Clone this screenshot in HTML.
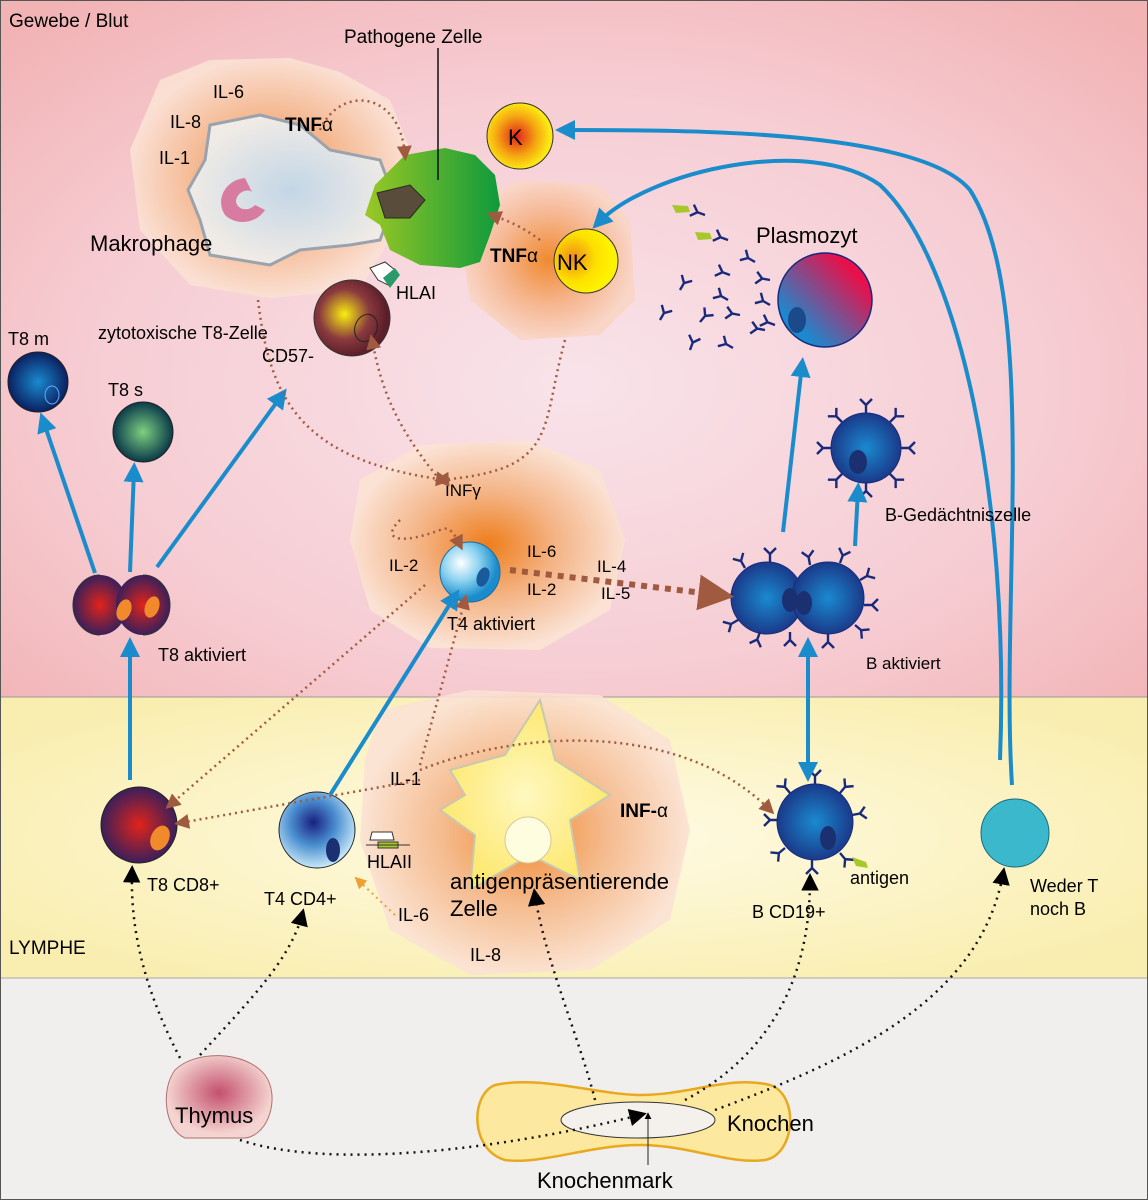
<!DOCTYPE html>
<html><head><meta charset="utf-8"><style>
html,body{margin:0;padding:0;background:#fff}
svg{display:block;font-family:"Liberation Sans",sans-serif}
</style></head><body>
<svg width="1148" height="1200" viewBox="0 0 1148 1200" xmlns="http://www.w3.org/2000/svg">
<defs>
<radialGradient id="bgTop" cx="0.5" cy="0.55" r="0.7"><stop offset="0" stop-color="#f9e3ea"/><stop offset="0.6" stop-color="#f6cdd3"/><stop offset="1" stop-color="#f2b3b5"/></radialGradient>
<radialGradient id="bgLy" cx="0.5" cy="0.5" r="0.6"><stop offset="0" stop-color="#fffbe6"/><stop offset="1" stop-color="#f9eeb0"/></radialGradient>
<radialGradient id="glow" cx="0.5" cy="0.5" r="0.5"><stop offset="0" stop-color="#ef7d1a"/><stop offset="0.5" stop-color="#f4b486"/><stop offset="1" stop-color="#fbe2d4"/></radialGradient>
<radialGradient id="glow2" cx="0.5" cy="0.5" r="0.5"><stop offset="0" stop-color="#f08a30"/><stop offset="0.6" stop-color="#f6b996"/><stop offset="1" stop-color="#f9d6c8"/></radialGradient>
<radialGradient id="macIn" cx="0.5" cy="0.5" r="0.5"><stop offset="0" stop-color="#c3d6e6"/><stop offset="1" stop-color="#f0ebe6"/></radialGradient>
<linearGradient id="green" x1="0" x2="1"><stop offset="0" stop-color="#9bc824"/><stop offset="1" stop-color="#0e9a3c"/></linearGradient>
<radialGradient id="kG" cx="0.45" cy="0.5" r="0.5"><stop offset="0" stop-color="#e2231a"/><stop offset="0.6" stop-color="#f5a512"/><stop offset="1" stop-color="#fde812"/></radialGradient>
<radialGradient id="nkG" cx="0.3" cy="0.45" r="0.6"><stop offset="0" stop-color="#f08a1a"/><stop offset="0.6" stop-color="#fde000"/><stop offset="1" stop-color="#fff200"/></radialGradient>
<radialGradient id="ctG" cx="0.4" cy="0.45" r="0.55"><stop offset="0" stop-color="#f9ee10"/><stop offset="0.6" stop-color="#8a3a3e"/><stop offset="1" stop-color="#5c1f2a"/></radialGradient>
<radialGradient id="t8m" cx="0.5" cy="0.5" r="0.5"><stop offset="0" stop-color="#1a8ad0"/><stop offset="1" stop-color="#0a2060"/></radialGradient>
<radialGradient id="t8s" cx="0.5" cy="0.5" r="0.5"><stop offset="0" stop-color="#7ed080"/><stop offset="1" stop-color="#0a3a4a"/></radialGradient>
<radialGradient id="t8a" cx="0.5" cy="0.5" r="0.55"><stop offset="0" stop-color="#e2231a"/><stop offset="1" stop-color="#2a1f60"/></radialGradient>
<radialGradient id="t4a" cx="0.35" cy="0.35" r="0.6"><stop offset="0" stop-color="#ffffff"/><stop offset="0.5" stop-color="#8dd3f0"/><stop offset="1" stop-color="#1a8ccc"/></radialGradient>
<radialGradient id="t4" cx="0.45" cy="0.4" r="0.6"><stop offset="0" stop-color="#1a2080"/><stop offset="0.5" stop-color="#4a8ed0"/><stop offset="1" stop-color="#c8e8f8"/></radialGradient>
<radialGradient id="bC" cx="0.5" cy="0.5" r="0.5"><stop offset="0" stop-color="#1a8ad0"/><stop offset="1" stop-color="#1a3a8a"/></radialGradient>
<linearGradient id="plas" x1="0" y1="1" x2="1" y2="0"><stop offset="0.2" stop-color="#1a8ad0"/><stop offset="0.8" stop-color="#e8104a"/></linearGradient>
<radialGradient id="thy" cx="0.5" cy="0.45" r="0.5"><stop offset="0" stop-color="#c4506e"/><stop offset="1" stop-color="#f4d4d0"/></radialGradient>
<radialGradient id="apc" cx="0.5" cy="0.5" r="0.5"><stop offset="0" stop-color="#fff8c0"/><stop offset="1" stop-color="#fde870"/></radialGradient>
<marker id="ab" viewBox="0 0 10 10" refX="6" refY="5" markerWidth="5" markerHeight="5" orient="auto-start-reverse"><path d="M0,0 L10,5 L0,10z" fill="#1a8ccc"/></marker>
<marker id="ad" viewBox="0 0 10 10" refX="6" refY="5" markerWidth="6" markerHeight="6" orient="auto"><path d="M0,0 L10,5 L0,10z" fill="#a05a40"/></marker>
<marker id="ak" viewBox="0 0 10 10" refX="6" refY="5" markerWidth="7" markerHeight="7" orient="auto"><path d="M0,0 L10,5 L0,10z" fill="#000"/></marker>
<marker id="ao" viewBox="0 0 10 10" refX="6" refY="5" markerWidth="6" markerHeight="6" orient="auto"><path d="M0,0 L10,5 L0,10z" fill="#f0a030"/></marker>
<g id="Y"><path d="M0,0 L0,-8 M0,-8 L-6,-14 M0,-8 L6,-14" stroke="#1a2a7a" stroke-width="2.4" fill="none"/></g>
</defs>

<rect x="0" y="0" width="1148" height="697" fill="url(#bgTop)"/>
<rect x="0" y="697" width="1148" height="281" fill="url(#bgLy)"/>
<rect x="0" y="978" width="1148" height="222" fill="#f0efed"/>
<line x1="0" y1="697" x2="1148" y2="697" stroke="#999" stroke-width="1"/>
<line x1="0" y1="978" x2="1148" y2="978" stroke="#aaa" stroke-width="1"/>
<rect x="0.5" y="0.5" width="1147" height="1199" fill="none" stroke="#555"/>

<text x="9" y="27" font-size="19">Gewebe / Blut</text>
<text x="9" y="954" font-size="19">LYMPHE</text>

<!-- glows -->
<path d="M160,80 L210,60 L290,58 L340,72 L390,100 L410,150 L395,230 L360,290 L270,298 L190,285 L140,230 L130,150 Z" fill="url(#glow)" opacity="0.9"/>
<path d="M470,205 L520,180 L600,185 L630,220 L635,300 L600,335 L520,340 L470,300 L462,250 Z" fill="url(#glow2)"/>
<path d="M360,480 L420,445 L530,440 L600,470 L625,540 L610,610 L540,650 L430,648 L370,610 L350,540 Z" fill="url(#glow)"/>
<path d="M380,710 L470,690 L600,695 L670,740 L690,830 L670,920 L590,970 L470,975 L390,930 L360,840 L365,760 Z" fill="url(#glow)" opacity="0.9"/>

<!-- blue long curves (behind) -->
<g stroke="#1a8ccc" stroke-width="4" fill="none" marker-end="url(#ab)">
<path d="M1012,785 C1000,600 1040,300 970,190 C920,130 690,130 563,130"/>
<path d="M1000,760 C1010,500 960,260 880,185 C810,135 650,170 598,223"/>
</g>

<!-- macrophage -->
<path d="M210,125 L260,115 L300,125 L330,150 L380,160 L395,200 L380,240 L350,245 L300,250 L270,265 L210,255 L200,220 L188,190 L205,160 Z" fill="url(#macIn)" stroke="#9aa3ad" stroke-width="3"/>
<path d="M245,178 C225,180 215,200 225,215 C235,225 255,225 265,210 L255,205 C248,212 238,210 236,202 C236,192 248,188 252,192 Z" fill="#d87ba0"/>
<text x="90" y="251" font-size="22">Makrophage</text>
<text x="213" y="98" font-size="18">IL-6</text>
<text x="170" y="128" font-size="18">IL-8</text>
<text x="159" y="164" font-size="18">IL-1</text>
<text x="285" y="131" font-size="19" font-weight="bold">TNF<tspan font-weight="normal">α</tspan></text>

<!-- pathogen -->
<path d="M375,185 L405,155 L445,148 L475,155 L495,175 L500,205 L490,235 L480,262 L460,268 L420,265 L390,250 L380,225 L365,215 Z" fill="url(#green)"/>
<path d="M377,193 L410,185 L425,200 L410,218 L385,218 Z" fill="#5a4c3a" stroke="#2a2a1a"/>
<line x1="438" y1="48" x2="438" y2="180" stroke="#111" stroke-width="1.5"/>
<text x="344" y="43" font-size="19">Pathogene Zelle</text>
<path d="M370,268 L385,262 L395,270 L388,285 L378,280 Z" fill="#fff" stroke="#333"/>
<path d="M383,278 L395,268 L400,275 L390,288 Z" fill="#2a9a6a"/>
<text x="396" y="299" font-size="18">HLAI</text>

<!-- K and NK -->
<circle cx="520" cy="136" r="33" fill="url(#kG)" stroke="#333" stroke-width="1"/>
<text x="508" y="145" font-size="22">K</text>
<circle cx="586" cy="261" r="32" fill="url(#nkG)" stroke="#333" stroke-width="1"/>
<text x="557" y="270" font-size="22">NK</text>
<text x="490" y="262" font-size="19" font-weight="bold">TNF<tspan font-weight="normal">α</tspan></text>

<!-- cytotoxic T8 -->
<circle cx="352" cy="318" r="38" fill="url(#ctG)" stroke="#333"/>
<ellipse cx="366" cy="328" rx="11" ry="14" fill="none" stroke="#222" transform="rotate(20 366 328)"/>
<text x="98" y="339" font-size="18">zytotoxische T8-Zelle</text>
<text x="262" y="362" font-size="18">CD57-</text>

<!-- T8 m, s -->
<circle cx="38" cy="382" r="30" fill="url(#t8m)" stroke="#222"/>
<ellipse cx="52" cy="395" rx="7" ry="9" fill="none" stroke="#6af" />
<text x="8" y="345" font-size="18">T8 m</text>
<circle cx="143" cy="432" r="30" fill="url(#t8s)" stroke="#222"/>
<text x="108" y="396" font-size="18">T8 s</text>

<!-- T8 aktiviert -->
<ellipse cx="100" cy="605" rx="27" ry="30" fill="url(#t8a)"/>
<ellipse cx="143" cy="605" rx="27" ry="30" fill="url(#t8a)"/>
<path d="M100,575 A27,30 0 0 0 100,635 M143,575 A27,30 0 0 1 143,635" stroke="#333" fill="none"/>
<ellipse cx="124" cy="610" rx="7" ry="11" fill="#f08a2a" transform="rotate(20 124 610)"/>
<ellipse cx="152" cy="607" rx="7" ry="11" fill="#f08a2a" transform="rotate(20 152 607)"/>
<text x="158" y="661" font-size="18">T8 aktiviert</text>

<!-- T4 aktiviert -->
<circle cx="470" cy="572" r="30" fill="url(#t4a)" stroke="#1a6ca0"/>
<ellipse cx="483" cy="577" rx="6" ry="10" fill="#1a5a9a" transform="rotate(20 483 577)"/>
<text x="445" y="496" font-size="17">INFγ</text>
<text x="389" y="571" font-size="17">IL-2</text>
<text x="527" y="557" font-size="17">IL-6</text>
<text x="527" y="595" font-size="17">IL-2</text>
<text x="597" y="572" font-size="17">IL-4</text>
<text x="601" y="599" font-size="17">IL-5</text>
<text x="447" y="630" font-size="18">T4 aktiviert</text>

<!-- antibodies -->
<g>
<path d="M672,205 L688,206 L690,212 L676,213 Z" fill="#a8c82a"/>
<path d="M695,232 L710,233 L712,239 L698,240 Z" fill="#a8c82a"/>
<use href="#Y" transform="translate(705,215) rotate(-70)"/>
<use href="#Y" transform="translate(728,240) rotate(-70)"/>
<use href="#Y" transform="translate(755,262) rotate(-60)"/>
<use href="#Y" transform="translate(730,275) rotate(-70)"/>
<use href="#Y" transform="translate(680,290) rotate(30)"/>
<use href="#Y" transform="translate(728,300) rotate(-60)"/>
<use href="#Y" transform="translate(770,280) rotate(-80)"/>
<use href="#Y" transform="translate(660,320) rotate(30)"/>
<use href="#Y" transform="translate(700,322) rotate(40)"/>
<use href="#Y" transform="translate(740,315) rotate(-80)"/>
<use href="#Y" transform="translate(770,305) rotate(-60)"/>
<use href="#Y" transform="translate(690,350) rotate(20)"/>
<use href="#Y" transform="translate(733,348) rotate(-60)"/>
<use href="#Y" transform="translate(775,325) rotate(-70)"/>
<use href="#Y" transform="translate(765,330) rotate(-80)"/>
</g>
<!-- Plasmozyt -->
<circle cx="825" cy="300" r="47" fill="url(#plas)" stroke="#1a2a7a" stroke-width="1.5"/>
<ellipse cx="797" cy="320" rx="9" ry="13" fill="#1a4a8a"/>
<text x="756" y="243" font-size="22">Plasmozyt</text>

<!-- B Gedächtnis -->
<circle cx="866" cy="448" r="35" fill="url(#bC)" stroke="#1a2a7a"/>
<ellipse cx="858" cy="462" rx="9" ry="12" fill="#1a3070"/>
<use href="#Y" transform="translate(866,413) rotate(0)"/>
<use href="#Y" transform="translate(842,422) rotate(-45)"/>
<use href="#Y" transform="translate(890,422) rotate(45)"/>
<use href="#Y" transform="translate(901,448) rotate(90)"/>
<use href="#Y" transform="translate(890,474) rotate(135)"/>
<use href="#Y" transform="translate(831,448) rotate(-90)"/>
<use href="#Y" transform="translate(842,474) rotate(-135)"/>
<use href="#Y" transform="translate(866,483) rotate(180)"/>
<text x="885" y="521" font-size="18">B-Gedächtniszelle</text>

<!-- B aktiviert -->
<circle cx="767" cy="598" r="36" fill="url(#bC)" stroke="#1a2a7a"/>
<circle cx="828" cy="598" r="36" fill="url(#bC)" stroke="#1a2a7a"/>
<ellipse cx="790" cy="600" rx="8" ry="12" fill="#1a3070"/>
<ellipse cx="804" cy="603" rx="8" ry="12" fill="#1a3070"/>
<use href="#Y" transform="translate(745,568) rotate(-30)"/>
<use href="#Y" transform="translate(770,562) rotate(0)"/>
<use href="#Y" transform="translate(810,565) rotate(-10)"/>
<use href="#Y" transform="translate(840,563) rotate(20)"/>
<use href="#Y" transform="translate(860,580) rotate(60)"/>
<use href="#Y" transform="translate(864,605) rotate(90)"/>
<use href="#Y" transform="translate(855,625) rotate(130)"/>
<use href="#Y" transform="translate(828,634) rotate(180)"/>
<use href="#Y" transform="translate(790,632) rotate(180)"/>
<use href="#Y" transform="translate(760,632) rotate(-160)"/>
<use href="#Y" transform="translate(738,620) rotate(-120)"/>
<use href="#Y" transform="translate(733,595) rotate(-90)"/>
<text x="866" y="669" font-size="17">B aktiviert</text>

<!-- Lymph cells -->
<circle cx="139" cy="825" r="38" fill="url(#t8a)" stroke="#222"/>
<ellipse cx="160" cy="838" rx="9" ry="13" fill="#f08a2a" transform="rotate(25 160 838)"/>
<text x="147" y="891" font-size="18">T8 CD8+</text>
<circle cx="317" cy="830" r="38" fill="url(#t4)" stroke="#222"/>
<ellipse cx="333" cy="850" rx="7" ry="12" fill="#1a3070"/>
<text x="264" y="905" font-size="18">T4 CD4+</text>

<!-- APC -->
<path d="M450,770 L505,755 L540,700 L555,760 L610,795 L570,820 L580,880 L530,855 L470,890 L475,835 L440,810 L465,795 Z" fill="url(#apc)" stroke="#c8c8b0" stroke-width="2"/>
<circle cx="528" cy="840" r="23" fill="#fffde0" stroke="#d8c890"/>
<text x="450" y="889" font-size="22">antigenpräsentierende</text>
<text x="450" y="916" font-size="22">Zelle</text>
<text x="620" y="817" font-size="19" font-weight="bold">INF-<tspan font-weight="normal">α</tspan></text>
<text x="390" y="785" font-size="18">IL-1</text>
<text x="398" y="921" font-size="18">IL-6</text>
<text x="470" y="961" font-size="18">IL-8</text>
<path d="M370,840 L372,832 L392,832 L394,840 Z" fill="#fff" stroke="#333"/>
<path d="M378,842 L398,842 L398,848 L378,848 Z" fill="#a8c82a" stroke="#333"/>
<line x1="366" y1="845" x2="410" y2="845" stroke="#333"/>
<text x="367" y="868" font-size="18">HLAII</text>

<circle cx="815" cy="822" r="38" fill="url(#bC)" stroke="#1a2a7a"/>
<ellipse cx="828" cy="838" rx="8" ry="12" fill="#1a3070"/>
<use href="#Y" transform="translate(815,784) rotate(0)"/>
<use href="#Y" transform="translate(790,793) rotate(-40)"/>
<use href="#Y" transform="translate(840,793) rotate(40)"/>
<use href="#Y" transform="translate(852,815) rotate(80)"/>
<use href="#Y" transform="translate(778,820) rotate(-90)"/>
<use href="#Y" transform="translate(785,848) rotate(-130)"/>
<use href="#Y" transform="translate(812,860) rotate(180)"/>
<use href="#Y" transform="translate(840,853) rotate(140)"/>
<path d="M852,857 L866,862 L868,868 L856,866 Z" fill="#a8c82a"/>
<text x="850" y="884" font-size="18">antigen</text>
<text x="752" y="918" font-size="18">B CD19+</text>

<circle cx="1015" cy="833" r="34" fill="#3bb8cc" stroke="#1a6a80"/>
<text x="1030" y="892" font-size="18">Weder T</text>
<text x="1030" y="915" font-size="18">noch B</text>

<!-- Thymus & bone -->
<path d="M175,1070 C195,1050 245,1050 265,1075 C280,1095 270,1135 245,1138 L185,1138 C165,1130 160,1090 175,1070 Z" fill="url(#thy)" stroke="#b07070"/>
<text x="175" y="1123" font-size="22">Thymus</text>
<path d="M495,1085 C540,1075 600,1095 640,1095 C690,1095 730,1075 770,1085 C800,1095 795,1155 765,1160 C730,1165 690,1145 640,1145 C590,1145 540,1165 505,1160 C470,1150 470,1095 495,1085 Z" fill="#fde8a0" stroke="#e8a820" stroke-width="2.5"/>
<ellipse cx="638" cy="1120" rx="77" ry="18" fill="#f4f1ec" stroke="#333"/>
<text x="727" y="1131" font-size="22">Knochen</text>
<text x="537" y="1188" font-size="22">Knochenmark</text>
<line x1="648" y1="1165" x2="648" y2="1115" stroke="#222" marker-end="url(#ak)"/>

<!-- blue arrows -->
<g stroke="#1a8ccc" stroke-width="4" fill="none" marker-end="url(#ab)">
<path d="M95,573 L43,420"/>
<path d="M130,572 L134,470"/>
<path d="M157,567 L282,395"/>
<path d="M130,780 L130,645"/>
<path d="M330,795 L455,596"/>
<path d="M783,532 L802,365"/>
<path d="M855,546 L858,490"/>
</g>
<path d="M808,645 L808,774" stroke="#1a8ccc" stroke-width="4" fill="none" marker-start="url(#ab)" marker-end="url(#ab)"/>

<!-- brown dotted -->
<g stroke="#a05a40" stroke-width="2.5" stroke-dasharray="2,4" fill="none" marker-end="url(#ad)">
<path d="M320,130 C340,85 400,90 405,155"/>
<path d="M540,240 C520,225 505,220 492,215"/>
<path d="M258,300 C270,400 300,460 445,480"/>
<path d="M565,340 C540,430 560,470 440,480"/>
<path d="M440,480 C390,420 380,380 372,340"/>
<path d="M400,520 C380,540 400,545 440,530 C450,525 455,535 460,545"/>
<path d="M425,585 L170,805"/>
<path d="M420,780 L180,823"/>
<path d="M420,765 L465,600"/>
<path d="M420,770 C520,730 680,720 770,810"/>
</g>
<path d="M510,570 L720,595" stroke="#a05a40" stroke-width="6" stroke-dasharray="6,6" marker-end="url(#ad)"/>
<path d="M395,915 L358,880" stroke="#f0a030" stroke-width="2" stroke-dasharray="2,4" marker-end="url(#ao)"/>

<!-- black dotted -->
<g stroke="#111" stroke-width="2.5" stroke-dasharray="2,5" fill="none" marker-end="url(#ak)">
<path d="M180,1058 C150,1000 130,940 132,872"/>
<path d="M200,1055 C250,1000 290,960 302,915"/>
<path d="M595,1100 C580,1040 545,960 535,895"/>
<path d="M685,1100 C760,1060 810,990 810,880"/>
<path d="M715,1110 C850,1060 980,1000 1003,874"/>
<path d="M240,1140 C330,1170 500,1150 640,1115"/>
</g>
</svg>
</body></html>
